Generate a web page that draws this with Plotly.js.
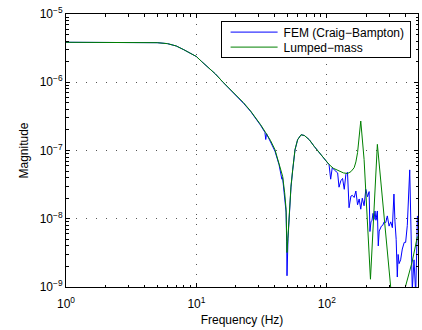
<!DOCTYPE html>
<html>
<head>
<meta charset="utf-8">
<script src="https://cdn.plot.ly/plotly-3.0.1.min.js"></script>
<style>html,body{margin:0;padding:0;background:#fff}#chart{width:422px;height:330px}</style>
</head>
<body>
<div id="chart"></div>
<script>
// FEM (Craig-Bampton) frequency response
const femFreq = [1, 2, 3, 4, 5, 6, 7, 8, 9, 10, 11, 12.5, 14, 16, 18, 20, 23, 26, 29, 31, 33.5, 34, 34.5, 37, 40, 43, 44.8, 45.2, 45.8, 47.5, 48.7, 49.2, 49.5, 50.4, 51.6, 53.1, 54.7, 57, 59.7, 63.4, 67.2, 73.3, 80, 87.5, 100, 104,
  107, 110, 114, 118, 121, 124, 128, 132, 136, 140, 144, 148, 153, 157, 162, 167, 172, 177, 182, 187, 193, 199, 205, 211, 214, 218, 222, 226, 230, 234, 238, 244, 248, 252, 257, 262, 268, 275, 283, 291, 300, 309, 318, 327, 333, 340, 347, 352, 358, 368, 379, 392, 402, 414, 432, 440, 452, 466, 480, 488, 495];
const femMag = [3.85e-6, 3.85e-6, 3.84e-6, 3.84e-6, 3.8e-6, 3.68e-6, 3.4e-6, 3.0e-6, 2.65e-6, 2.38e-6, 2.0e-6, 1.63e-6, 1.32e-6, 1.0e-6, 8.0e-7, 6.5e-7, 4.9e-7, 3.75e-7, 2.85e-7, 2.35e-7, 1.85e-7, 1.45e-7, 1.76e-7, 1.35e-7, 9.8e-8, 6.2e-8, 4.5e-8, 3.8e-8, 4.0e-8, 2.2e-8, 1.25e-8, 4.6e-9, 1.46e-9, 5.2e-9, 1.3e-8, 2.9e-8, 5.1e-8, 1.02e-7, 1.44e-7, 1.7e-7, 1.66e-7, 1.44e-7, 1.15e-7, 9.3e-8, 6.7e-8, 6.2e-8,
  3.8e-8, 5.6e-8, 5.2e-8, 4.9e-8, 4.7e-8, 2.9e-8, 3.6e-8, 3.9e-8, 2.7e-8, 4.5e-8, 4.8e-8, 1.45e-8, 2.15e-8, 2.2e-8, 2.05e-8, 2.55e-8, 1.6e-8, 1.95e-8, 1.38e-8, 2.0e-8, 1.55e-8, 2.7e-8, 2.1e-8, 2.5e-8, 6.5e-9, 9e-9, 9.5e-9, 1.2e-8, 9.8e-9, 1.3e-8, 9.5e-9, 1.3e-8, 4e-9, 6.6e-9, 7.5e-9, 7.8e-9, 8e-9, 9e-9, 8.8e-9, 1.1e-8, 7.8e-9, 9e-9, 7.4e-9, 2.3e-8, 9e-9, 5e-9, 1.4e-9, 3e-9, 2.2e-9, 2.5e-9, 3.6e-9, 4.5e-9, 4.5e-9, 8e-9, 5.2e-8, 1.2e-8, 9e-10, 2.5e-9, 8e-10, 3e-9, 1.1e-8];

// Lumped-mass frequency response
const lumpFreq = [1, 2, 3, 4, 5, 6, 7, 8, 9, 10, 11, 12.5, 14, 16, 18, 20, 23, 26, 29, 31, 34, 37, 40, 43, 45.8, 47.5, 48.7, 49.2, 49.5, 50.4, 51.6, 53.1, 54.7, 57, 59.7, 63.4, 67.2, 73.3, 80, 87.5, 100, 104, 112, 124, 134, 144, 153, 162, 167, 172, 177, 182, 193, 205, 216, 244, 312, 360, 400, 450, 495];
const lumpMag = [3.85e-6, 3.85e-6, 3.84e-6, 3.84e-6, 3.8e-6, 3.68e-6, 3.4e-6, 3.0e-6, 2.65e-6, 2.38e-6, 2.0e-6, 1.63e-6, 1.32e-6, 1.0e-6, 8.0e-7, 6.5e-7, 5.0e-7, 3.8e-7, 2.9e-7, 2.4e-7, 1.82e-7, 1.4e-7, 1.03e-7, 6.5e-8, 4.2e-8, 2.4e-8, 1.38e-8, 5.6e-9, 3.2e-9, 5.6e-9, 1.38e-8, 3.0e-8, 5.2e-8, 1.03e-7, 1.44e-7, 1.7e-7, 1.66e-7, 1.44e-7, 1.15e-7, 9.3e-8, 6.7e-8, 6.25e-8, 5.5e-8, 5.0e-8, 4.7e-8, 4.6e-8, 4.9e-8, 5.6e-8, 6.8e-8, 9.3e-8, 1.5e-7, 2.7e-7, 7.4e-8, 1.0e-8, 1.3e-9, 1.23e-7, 8e-10, 2e-10, 1e-9, 2.3e-9, 5.5e-9];

const xTickVals = [1, 10, 100];
const xTickText = ['10<sup>0</sup>', '10<sup>1</sup>', '10<sup>2</sup>'];
const yTickVals = [1e-9, 1e-8, 1e-7, 1e-6, 1e-5];
const yTickText = ['10<sup>\u22129</sup>', '10<sup>\u22128</sup>', '10<sup>\u22127</sup>', '10<sup>\u22126</sup>', '10<sup>\u22125</sup>'];
const xMinor = [2,3,4,5,6,7,8,9,20,30,40,50,60,70,80,90,200,300,400];
const yMinor = [];
[1e-9,1e-8,1e-7,1e-6].forEach(d => { for (let k = 2; k <= 9; k++) yMinor.push(k*d); });

const traces = [
  {x: femFreq, y: femMag, name: 'FEM (Craig\u2212Bampton)', type: 'scatter', mode: 'lines',
   line: {color: '#0000ff', width: 1}},
  {x: lumpFreq, y: lumpMag, name: 'Lumped\u2212mass', type: 'scatter', mode: 'lines',
   line: {color: '#008000', width: 1}}
];

const axisCommon = {
  type: 'log', showline: true, linecolor: '#000', linewidth: 1, mirror: 'allticks',
  ticks: 'inside', ticklen: 4, tickcolor: '#000', tickwidth: 1,
  showgrid: true, gridcolor: '#555', griddash: '1px,9px', gridwidth: 1,
  zeroline: false, tickmode: 'array',
  tickfont: {family: 'Liberation Sans, Arial, sans-serif', size: 12, color: '#000'}
};

const layout = {
  width: 422, height: 330,
  margin: {l: 66, r: 4, t: 14, b: 43},
  paper_bgcolor: '#fff', plot_bgcolor: '#fff',
  showlegend: true,
  font: {family: 'Liberation Sans, Arial, sans-serif', size: 12, color: '#000'},
  xaxis: Object.assign({}, axisCommon, {
    range: [0, Math.log10(500)], tickvals: xTickVals, ticktext: xTickText,
    ticklabelstandoff: 6,
    minor: {tickmode: 'array', tickvals: xMinor, ticks: 'inside', ticklen: 2.5, tickcolor: '#000', showgrid: false},
    title: {text: 'Frequency (Hz)', font: {size: 12}, standoff: 5}
  }),
  yaxis: Object.assign({}, axisCommon, {
    range: [-9, -5], tickvals: yTickVals, ticktext: yTickText,
    minor: {tickmode: 'array', tickvals: yMinor, ticks: 'inside', ticklen: 2.5, tickcolor: '#000', showgrid: false},
    title: {text: 'Magnitude', font: {size: 12}, standoff: 8}
  }),
  legend: {
    x: 0.979, y: 0.974, xanchor: 'right', yanchor: 'top',
    bgcolor: '#fff', bordercolor: '#000', borderwidth: 1,
    font: {size: 12}, tracegroupgap: 0, itemwidth: 52
  }
};

Plotly.newPlot('chart', traces, layout, {staticPlot: true, displayModeBar: false}).then(gd => {
  // tighten the legend to match the compact reference legend box
  const lg = gd.querySelector('g.legend');
  if (!lg) return;
  const items = lg.querySelectorAll('g.traces');
  items.forEach((it, i) => {
    const m = /translate\(\s*([-\d.e]+)[ ,]+([-\d.e]+)\s*\)/.exec(it.getAttribute('transform') || '');
    const tx = m ? m[1] : 1;
    it.setAttribute('transform', 'translate(' + tx + ',' + (11 + 15 * i) + ')');
    it.querySelectorAll('path.js-line').forEach(p => p.setAttribute('d', 'M9,0h47'));
  });
  const bg = lg.querySelector('rect.bg');
  if (bg) bg.setAttribute('height', 36);
});
</script>
</body>
</html>
